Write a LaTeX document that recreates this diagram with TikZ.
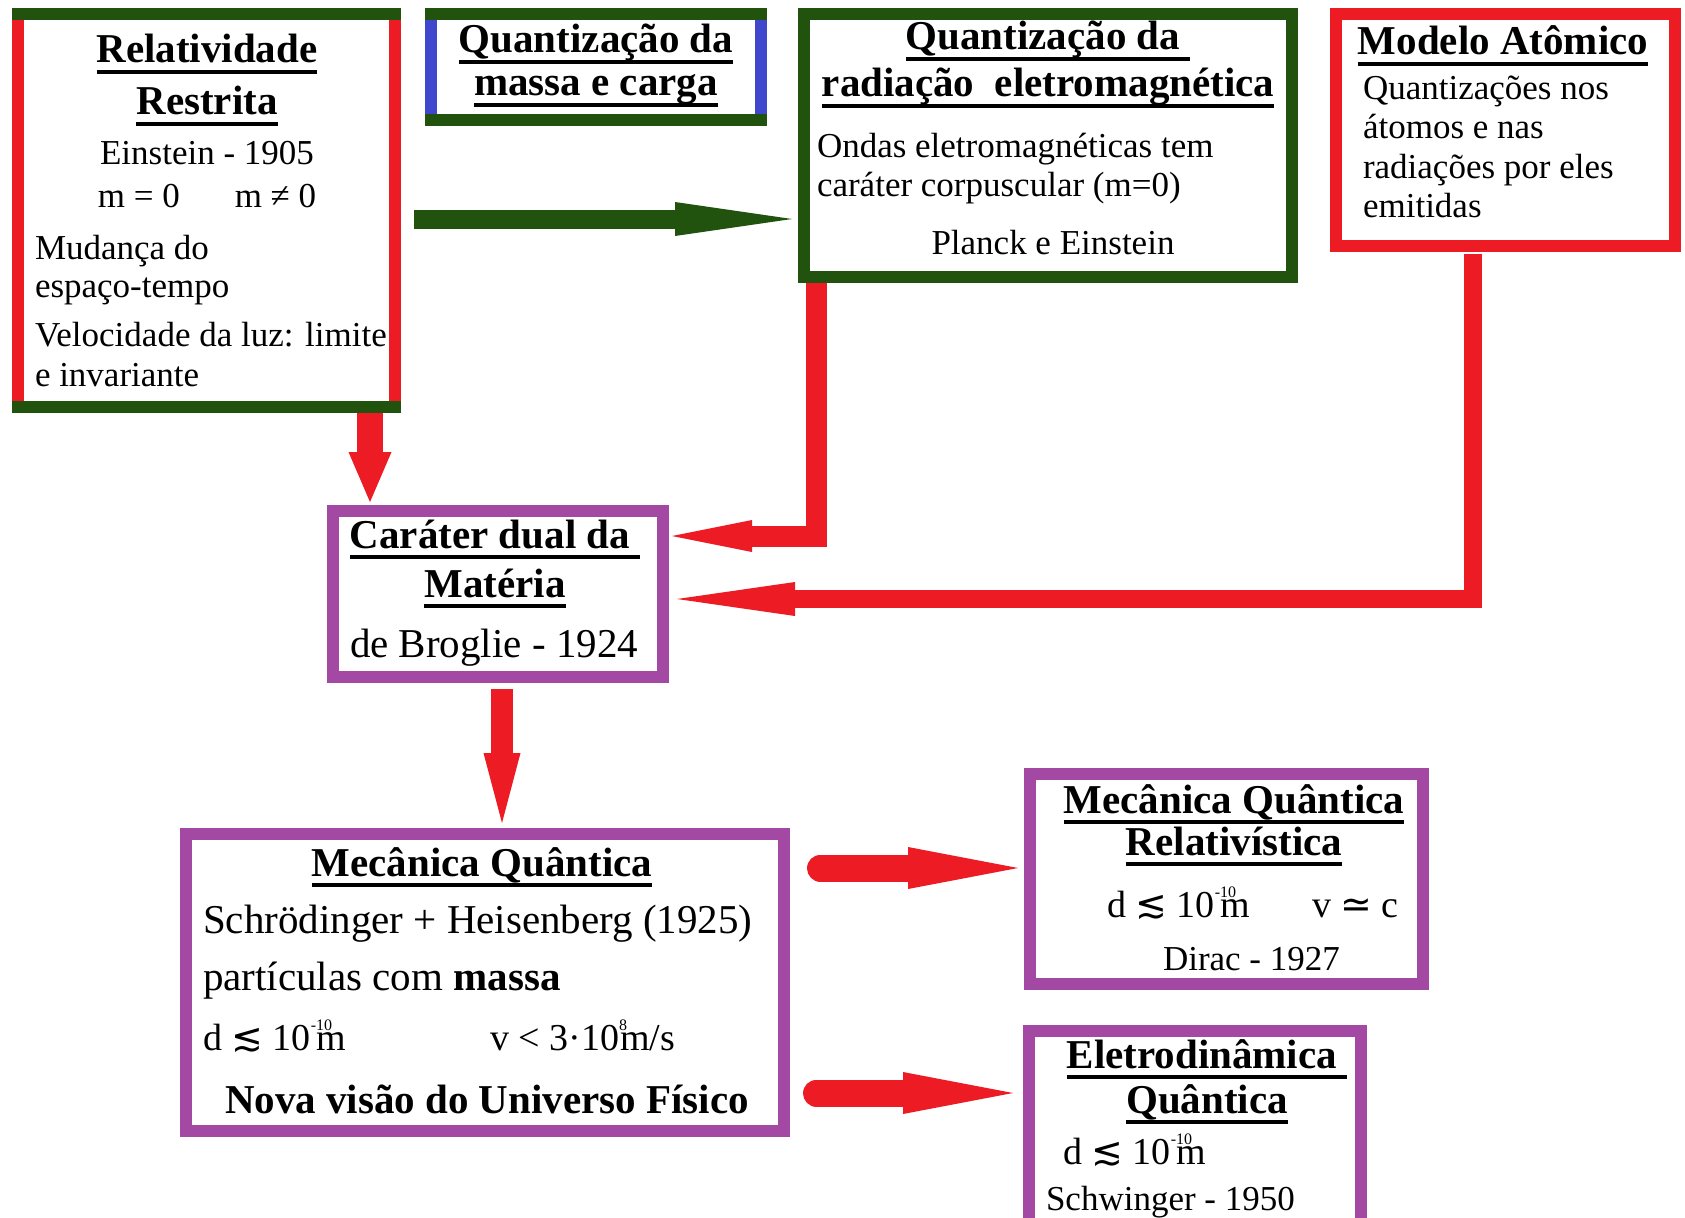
\documentclass[tikz,border=0pt]{standalone}
\usepackage{fontspec}
\setmainfont{Liberation Serif}
\newfontfamily\symf{DejaVu Sans}
\usetikzlibrary{arrows.meta}
\definecolor{mred}{RGB}{237,28,36}
\definecolor{mgreen}{RGB}{33,82,14}
\definecolor{mblue}{RGB}{63,72,204}
\definecolor{mpurple}{RGB}{163,73,164}
\newcommand\hdf{\normalfont\fontsize{41}{0}\selectfont\bfseries}
\newcommand\smf{\normalfont\fontsize{35}{0}\selectfont}
\newcommand\bgf{\normalfont\fontsize{41}{0}\selectfont}
\newcommand\mdf{\normalfont\fontsize{38}{0}\selectfont}
\newcommand\hdul[1]{\leavevmode\setbox0\hbox{#1}\rlap{\rule[-11pt]{\wd0}{4pt}}\box0}
\newcommand\tenm[2]{10\rlap{\raisebox{20pt}{\fontsize{16}{0}\selectfont #1}}\kern#2 m}
\newcommand\dlsim{{\symf ≲}}
\newcommand\txtblock[2]{\parbox[t]{#1}{\lineskiplimit=-1000pt\relax #2}}
\tikzset{box/.style={draw=#1,line width=12pt,inner sep=0pt,outer sep=0pt},
  band/.style={draw=#1,line width=12pt,line cap=rect},
  txt/.style={inner sep=0pt,outer sep=0pt,anchor=base west},
  txtc/.style={inner sep=0pt,outer sep=0pt,anchor=base},
  conn/.style n args={4}{draw=#1,line width=#2,-{Triangle[length=#3,width=#4,line width=0pt]}}}

\begin{document}
\begin{tikzpicture}[x=1pt,y=-1pt]
  \path[use as bounding box,fill=white] (0,0) rectangle (1685,1217);
  \clip (0,0) rectangle (1685,1217);

  % boxes
  \node[box=mred,minimum width=377pt,minimum height=393pt] (rel) at (206.5,210.5) {};
  \node[box=mblue,minimum width=330pt,minimum height=106pt] (qmc) at (596,67) {};
  \node[box=mgreen,minimum width=488pt,minimum height=263pt] (qrad) at (1048,145.5) {};
  \node[box=mred,minimum width=339pt,minimum height=232pt] (mod) at (1505.5,130) {};
  \node[box=mpurple,minimum width=330pt,minimum height=166pt] (dual) at (498,594) {};
  \node[box=mpurple,minimum width=598pt,minimum height=297pt] (mq) at (485,982.5) {};
  \node[box=mpurple,minimum width=393pt,minimum height=210pt] (mqr) at (1226.5,879) {};
  \node[box=mpurple,minimum width=332pt,minimum height=223pt] (eq) at (1195,1142.5) {};
  \draw[band=mgreen] (rel.north west) -- (rel.north east);
  \draw[band=mgreen] (rel.south west) -- (rel.south east);
  \draw[band=mgreen] (qmc.north west) -- (qmc.north east);
  \draw[band=mgreen] (qmc.south west) -- (qmc.south east);

  % texts
  \node[txt] (relT) at (35,63) {\txtblock{344pt}{\centering\hdf\hdul{Relatividade}\\[52pt]
    \hdul{Restrita}\\[50pt]
    \smf Einstein - 1905\\[43pt]
    m = 0\hspace{55pt}m ≠ 0\\[52pt]
    \raggedright Mudança do\\[38pt]
    espaço-tempo\\[49pt]
    \mbox{Velocidade da luz: limite}\\[40pt]
    e invariante}};
  \node[txtc] (qmcT) at (596,53) {\txtblock{330pt}{\centering\hdf\hdul{Quantização da}\\[43pt]
    \hdul{massa e carga}}};
  \node[txt] (qradT) at (817,50) {\txtblock{462pt}{\centering\hdf\hdul{Quantização da\ }\\[47pt]
    \hdul{radiação\ \ eletromagnética}\\[61pt]
    \raggedright\smf Ondas eletromagnéticas tem\\[39pt]
    caráter corpuscular (m=0)\\[58pt]
    \centering\hspace*{10pt}Planck e Einstein}};
  \node[txt] (modT) at (1363,55) {\txtblock{300pt}{\centering\hdf\hspace*{-20pt}\hdul{Modelo Atômico}\\[45pt]
    \raggedright\smf Quantizações nos\\[39pt]
    átomos e nas\\[40pt]
    radiações por eles\\[39pt]
    emitidas}};
  \node[txt] (dualT) at (345,548) {\txtblock{300pt}{\centering\hdf\hdul{Caráter dual da\ }\\[49pt]
    \hdul{Matéria}\\[60pt]
    \raggedright\bgf\hspace*{5pt}de Broglie - 1924}};
  \node[txt] (mqT) at (203,876) {\txtblock{558pt}{\centering\hdf\hdul{Mecânica Quântica}\\[57pt]
    \raggedright\bgf\mbox{Schrödinger + Heisenberg (1925)}\\[57pt]
    partículas com \textbf{massa}\\[60pt]
    \mdf\makebox[287pt][l]{d \dlsim\ \tenm{-10}{6pt}}v < 3·\tenm{8}{1pt}/s\\[63pt]
    \hdf\hspace*{22pt}\mbox{Nova visão do Universo Físico}}};
  \node[txt] (mqrT) at (1050,813) {\txtblock{368pt}{\centering\hdf\hdul{Mecânica Quântica}\\[42pt]
    \hdul{Relativística}\\[62pt]
    \raggedright\mdf\hspace*{57pt}\makebox[205pt][l]{d \dlsim\ \tenm{-10}{6pt}}v {\symf ≃} c\\[53pt]
    \smf\hspace*{113pt}Dirac - 1927}};
  \node[txt] (eqT) at (1046,1068) {\txtblock{322pt}{\centering\hdf\hdul{Eletrodinâmica\ }\\[45pt]
    \hdul{Quântica}\\[51pt]
    \raggedright\mdf\hspace*{17pt}d \dlsim\ \tenm{-10}{6pt}\\[46pt]
    \smf Schwinger - 1950}};

  % connectors
  \coordinate (g1) at ([shift={(19,8.5)}]rel.east);
  \coordinate (r1) at ([xshift=-25pt]rel.south east);
  \coordinate (r2) at ([xshift=12pt]qrad.south west);
  \coordinate (d1) at ([yshift=58pt]dual.east);
  \coordinate (r3) at ([xshift=-32.5pt]mod.south);
  \coordinate (d2) at ([yshift=-5pt]dual.east);
  \coordinate (r4) at ([xshift=4pt]dual.south);
  \coordinate (m1) at ([yshift=114.5pt]mq.east);
  \coordinate (m2) at ([yshift=-110.5pt]mq.east);
  \draw[conn={mgreen}{19pt}{117pt}{34pt},shorten >=12pt] (g1) -- (g1 -| qrad.west);
  \draw[conn={mred}{26pt}{50pt}{43pt},shorten <=6pt,shorten >=9pt] (r1) -- (r1 |- dual.north);
  \draw[conn={mred}{21pt}{80pt}{32pt},shorten <=6pt,shorten >=9pt] (r2) |- (d1);
  \draw[conn={mred}{18pt}{118pt}{34pt},shorten <=8pt,shorten >=14pt] (r3) |- (d2);
  \draw[conn={mred}{22pt}{70pt}{37pt},shorten <=12pt,shorten >=11pt] (r4) -- (r4 |- mq.north);
  \draw[conn={mred}{27pt}{110pt}{42pt},line cap=round,shorten <=36.5pt,shorten >=12pt] (m1) -- (m1 -| mqr.west);
  \draw[conn={mred}{27pt}{110pt}{42pt},line cap=round,shorten <=32.5pt,shorten >=16pt] (m2) -- (m2 -| eq.west);
\end{tikzpicture}
\end{document}
